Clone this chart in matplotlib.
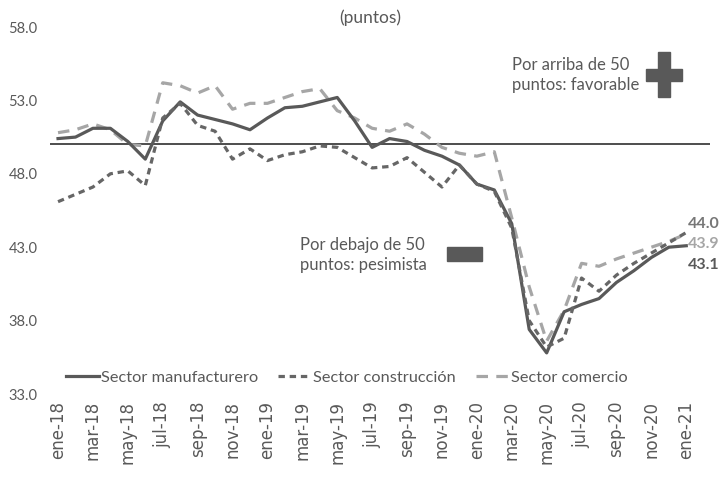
import numpy as np
import matplotlib
matplotlib.use("Agg")
import matplotlib.pyplot as plt
from matplotlib.patches import Rectangle

plt.rcParams['font.family'] = ['Lato', 'DejaVu Sans']

# Datos mensuales ene-18 a ene-21 (puntos)
manufacturero = [50.4, 50.5, 51.1, 51.1, 50.2, 49.0, 51.6, 52.9, 52.0, 51.7, 51.4, 51.0,
                 51.8, 52.5, 52.6, 52.9, 53.2, 51.6, 49.8, 50.4, 50.2, 49.6, 49.2, 48.6,
                 47.3, 46.9, 44.6, 37.4, 35.8, 38.6, 39.1, 39.5, 40.6, 41.4, 42.3, 43.0,
                 43.1]
construccion = [46.1, 46.6, 47.1, 48.0, 48.2, 47.2, 51.8, 52.8, 51.3, 50.9, 49.0, 49.7,
                48.9, 49.3, 49.5, 49.9, 49.8, 49.1, 48.4, 48.5, 49.1, 48.1, 47.1, 48.6,
                47.3, 46.8, 44.3, 38.0, 36.2, 36.8, 40.9, 40.0, 41.1, 41.9, 42.6, 43.3,
                44.0]
comercio = [50.8, 51.0, 51.4, 51.0, 50.0, 49.9, 54.2, 54.0, 53.5, 54.0, 52.4, 52.8,
            52.8, 53.2, 53.6, 53.8, 52.3, 51.8, 51.1, 50.9, 51.4, 50.7, 49.8, 49.4,
            49.2, 49.5, 45.0, 40.3, 36.6, 38.7, 41.9, 41.7, 42.2, 42.6, 43.0, 43.4,
            43.9]

etiquetas = ['ene-18', 'mar-18', 'may-18', 'jul-18', 'sep-18', 'nov-18',
             'ene-19', 'mar-19', 'may-19', 'jul-19', 'sep-19', 'nov-19',
             'ene-20', 'mar-20', 'may-20', 'jul-20', 'sep-20', 'nov-20', 'ene-21']

gris_osc = '#595959'
gris_med = '#666666'
gris_cla = '#a6a6a6'

x = np.arange(len(manufacturero))

fig = plt.figure(figsize=(7.23, 4.82), dpi=100)
ax = fig.add_axes([50/723, 88/482, 660/723, 367/482])

ax.axhline(50, color='#3f3f3f', lw=1.3, zorder=1)
ax.plot(x, manufacturero, color=gris_osc, lw=2.3, label='Sector manufacturero', zorder=3)
ax.plot(x, construccion, color=gris_med, lw=2.3, dashes=(2.0, 1.5),
        label='Sector construcción', zorder=3)
ax.plot(x, comercio, color=gris_cla, lw=2.3, dashes=(3.6, 2.6),
        label='Sector comercio', zorder=2)

ax.set_xlim(-0.46, 37.36)
ax.set_ylim(33, 58)
ax.set_yticks(np.arange(33, 58.1, 5))
ax.set_yticklabels([f'{v:.1f}' for v in np.arange(33, 58.1, 5)])
ax.set_xticks(x[::2])
ax.set_xticklabels(etiquetas, rotation=90, family='DejaVu Sans', fontsize=12)
ax.tick_params(length=0, colors=gris_osc)
ax.tick_params(axis='y', pad=9, labelsize=10.5)
ax.tick_params(axis='x', pad=5)
for s in ax.spines.values():
    s.set_visible(False)

ax.legend(loc='center', bbox_to_anchor=(0.45, 0.045), ncol=3, frameon=False,
          fontsize=11.8, handlelength=2.0, handletextpad=0.15, columnspacing=1.2,
          labelcolor=gris_osc)

# etiquetas finales
ax.annotate(f'{construccion[-1]:.1f}', xy=(x[-1], construccion[-1]), xytext=(2, 9),
            textcoords='offset pixels', color='#777777', fontsize=11.5,
            fontweight='bold', va='center', ha='left')
ax.annotate(f'{comercio[-1]:.1f}', xy=(x[-1], comercio[-1]), xytext=(2, -10),
            textcoords='offset pixels', color=gris_cla, fontsize=11.5,
            fontweight='bold', va='center', ha='left')
ax.annotate(f'{manufacturero[-1]:.1f}', xy=(x[-1], manufacturero[-1]), xytext=(2, -19),
            textcoords='offset pixels', color=gris_osc, fontsize=11.5,
            fontweight='bold', va='center', ha='left')

fig.text(370/723, 1 - 18/482, '(puntos)', ha='center', va='center',
         fontsize=12.5, color=gris_osc)
fig.text(512/723, 1 - 75/482, 'Por arriba de 50\npuntos: favorable', ha='left',
         va='center', fontsize=12, color=gris_osc, linespacing=1.3)
fig.text(300/723, 1 - 255/482, 'Por debajo de 50\npuntos: pesimista', ha='left',
         va='center', fontsize=12, color=gris_osc, linespacing=1.3)

# signos + y -
fig.add_artist(Rectangle((646/723, 1 - 81/482), 36/723, 12/482,
                         transform=fig.transFigure, color=gris_osc))
fig.add_artist(Rectangle((658/723, 1 - 97/482), 12/723, 45/482,
                         transform=fig.transFigure, color=gris_osc))
fig.add_artist(Rectangle((447/723, 1 - 261/482), 35/723, 14/482,
                         transform=fig.transFigure, color=gris_osc))

fig.savefig('out.png', dpi=100)
